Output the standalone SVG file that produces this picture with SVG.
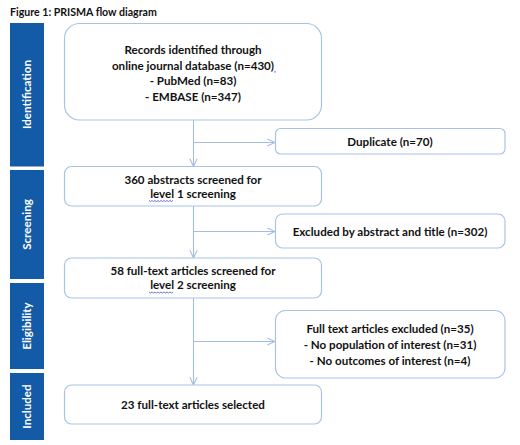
<svg xmlns="http://www.w3.org/2000/svg" width="520" height="445" viewBox="0 0 520 445">
<style>
.t{font-family:Lato,"Liberation Sans",sans-serif;font-weight:bold;font-size:11.6px;fill:#111;text-anchor:middle}
.side{font-family:Lato,"Liberation Sans",sans-serif;font-weight:bold;font-size:11.6px;fill:#fff;text-anchor:middle}
.bar{fill:#135ba6}
.box{fill:#fff;stroke:#a9c3e6;stroke-width:1.2}
.ln{fill:none;stroke:#a3bde3;stroke-width:1.1}
.wv{fill:none;stroke:#3a3ad8;stroke-width:0.7}
</style>
<defs>
<marker id="ah" viewBox="0 0 10 10" refX="9.5" refY="5" markerWidth="9" markerHeight="9" markerUnits="userSpaceOnUse" orient="auto">
<path d="M1,1 L9.5,5 L1,9" fill="none" stroke="#a3bde3" stroke-width="1.2"/>
</marker>
</defs>
<rect width="520" height="445" fill="#fff"/>
<text x="10" y="15.5" style="font-family:Lato,'Liberation Sans',sans-serif;font-weight:bold;font-size:10.6px;fill:#111">Figure 1: PRISMA flow diagram</text>

<g id="phase-identification"><rect class="bar" x="10" y="23" width="34" height="143.5"/><text class="side" transform="translate(31,94.5) rotate(-90)">Identification</text></g>
<g id="phase-screening"><rect class="bar" x="10" y="170" width="34" height="109"/><text class="side" transform="translate(31,224.5) rotate(-90)">Screening</text></g>
<g id="phase-eligibility"><rect class="bar" x="10" y="283" width="34" height="86"/><text class="side" transform="translate(31,326) rotate(-90)">Eligibility</text></g>
<g id="phase-included"><rect class="bar" x="10" y="373" width="34" height="67"/><text class="side" transform="translate(31,406.5) rotate(-90)">Included</text></g>

<g id="connectors">
<line class="ln" x1="193.5" y1="120" x2="193.5" y2="166.5" marker-end="url(#ah)"/>
<line class="ln" x1="193.5" y1="142.5" x2="275" y2="142.5" marker-end="url(#ah)"/>
<line class="ln" x1="193.5" y1="206" x2="193.5" y2="258" marker-end="url(#ah)"/>
<line class="ln" x1="193.5" y1="231.5" x2="275" y2="231.5" marker-end="url(#ah)"/>
<line class="ln" x1="193.5" y1="298" x2="193.5" y2="385" marker-end="url(#ah)"/>
<line class="ln" x1="193.5" y1="341.5" x2="275" y2="341.5" marker-end="url(#ah)"/>
</g>

<g id="records">
<rect class="box" x="64.5" y="23.5" width="257" height="96.5" rx="15"/>
<text class="t" x="193" y="53.5">Records identified through</text>
<text class="t" x="193" y="69.5">online journal database (n=430)</text>
<text class="t" x="193" y="85">- PubMed (n=83)</text>
<text class="t" x="193" y="100.5">- EMBASE (n=347)</text>
<path class="wv" d="M274,71.5 l1,0.8 l1,-0.8"/>
</g>

<g id="duplicate">
<rect class="box" x="275.5" y="128.5" width="229.5" height="25.5" rx="5"/>
<text class="t" x="390" y="146.3">Duplicate (n=70)</text>
</g>

<g id="screened-l1">
<rect class="box" x="64.5" y="166.5" width="257" height="39.5" rx="7"/>
<text class="t" x="193" y="183.5">360 abstracts screened for</text>
<text class="t" x="193" y="197.5">level 1 screening</text>
<path class="wv" d="M149,200.5 l1.5,1 l1.5,-1 l1.5,1 l1.5,-1 l1.5,1 l1.5,-1 l1.5,1 l1.5,-1 l1.5,1 l1.5,-1 l1.5,1 l1.5,-1 l1.5,1 l1.5,-1 l1.5,1 l1.5,-1"/>
</g>

<g id="excluded-abstract">
<rect class="box" x="275.5" y="214" width="229.5" height="34" rx="7"/>
<text class="t" x="390" y="235.5">Excluded by abstract and title (n=302)</text>
</g>

<g id="screened-l2">
<rect class="box" x="64.5" y="258" width="257" height="40" rx="7"/>
<text class="t" x="193" y="274.5">58 full-text articles screened for</text>
<text class="t" x="193" y="289">level 2 screening</text>
<path class="wv" d="M149,292 l1.5,1 l1.5,-1 l1.5,1 l1.5,-1 l1.5,1 l1.5,-1 l1.5,1 l1.5,-1 l1.5,1 l1.5,-1 l1.5,1 l1.5,-1 l1.5,1 l1.5,-1 l1.5,1 l1.5,-1"/>
</g>

<g id="excluded-fulltext">
<rect class="box" x="275.5" y="310.5" width="229.5" height="67.5" rx="10"/>
<text class="t" x="390" y="333">Full text articles excluded (n=35)</text>
<text class="t" x="390" y="348.8">- No population of interest (n=31)</text>
<text class="t" x="390" y="364.5">- No outcomes of interest (n=4)</text>
<path class="wv" d="M470,334.5 l1,0.8 l1,-0.8"/>
</g>

<g id="selected">
<rect class="box" x="64.5" y="385" width="257" height="39" rx="7"/>
<text class="t" x="193" y="409">23 full-text articles selected</text>
</g>
</svg>
